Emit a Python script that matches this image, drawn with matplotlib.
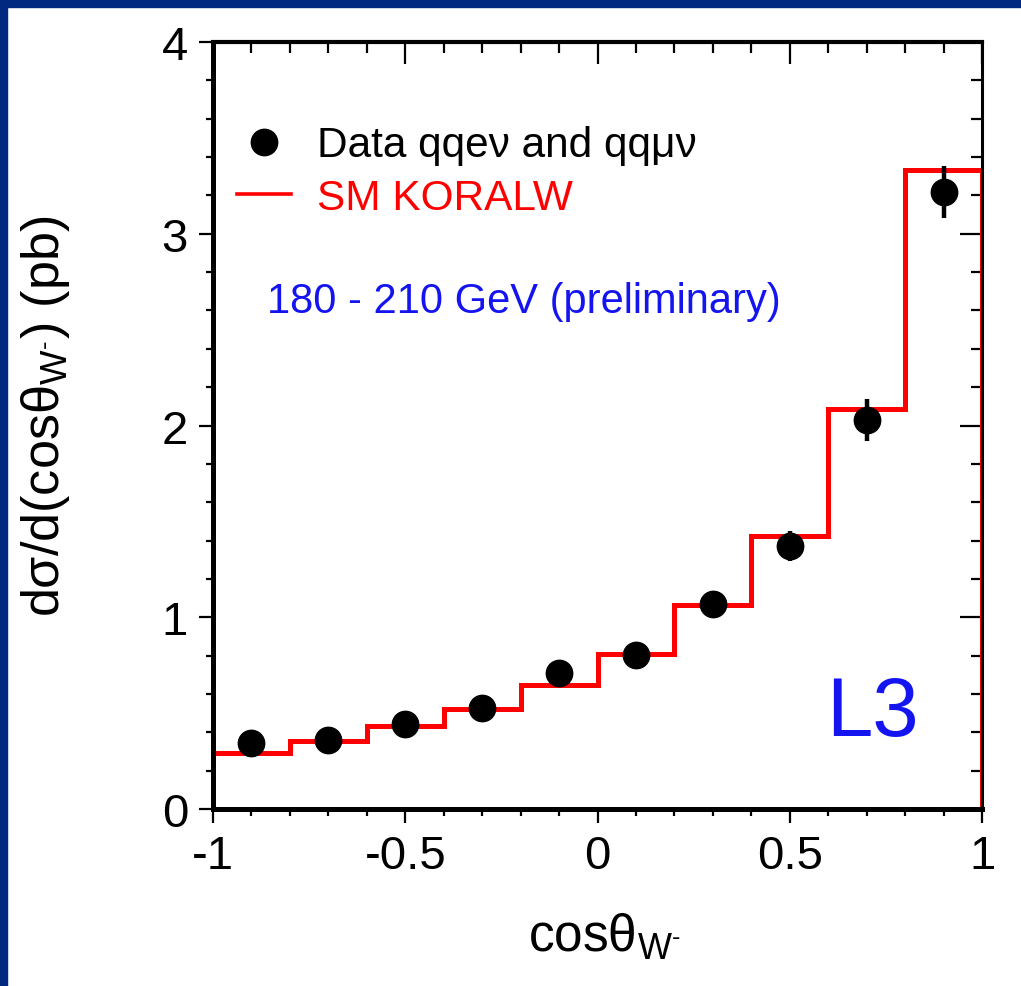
import numpy as np
import matplotlib
matplotlib.use("Agg")
import matplotlib.pyplot as plt
from matplotlib.ticker import MultipleLocator
from matplotlib.patches import Rectangle
from matplotlib.lines import Line2D

# --- data ---
bin_edges = [-1.0, -0.8, -0.6, -0.4, -0.2, 0.0, 0.2, 0.4, 0.6, 0.8, 1.0]
sm_koralw = [0.29, 0.355, 0.433, 0.52, 0.645, 0.81, 1.065, 1.425, 2.085, 3.335]

data_x = [-0.9, -0.7, -0.5, -0.3, -0.1, 0.1, 0.3, 0.5, 0.7, 0.9]
data_y = [0.344, 0.36, 0.443, 0.527, 0.709, 0.803, 1.069, 1.372, 2.029, 3.218]
data_err = [0.03, 0.03, 0.035, 0.04, 0.045, 0.05, 0.07, 0.08, 0.11, 0.135]

x_ticks = [-1, -0.5, 0, 0.5, 1]
x_tick_labels = ["-1", "-0.5", "0", "0.5", "1"]
y_ticks = [0, 1, 2, 3, 4]

navy = "#00297F"
blue = "#1414F0"
red = "#FF0000"

plt.rcParams["font.family"] = ["Liberation Sans", "DejaVu Sans"]
plt.rcParams["mathtext.fontset"] = "custom"
plt.rcParams["mathtext.rm"] = "Liberation Sans"
plt.rcParams["mathtext.it"] = "Liberation Sans"
plt.rcParams["axes.unicode_minus"] = False

fig = plt.figure(figsize=(10.21, 9.87), dpi=100)
fig.patch.set_facecolor("white")

# navy slide frame (top and left strips)
fig.patches.append(Rectangle((0, 1 - 8 / 987), 1, 8 / 987, transform=fig.transFigure,
                             color=navy, zorder=0))
fig.patches.append(Rectangle((0, 0), 7 / 1021, 1, transform=fig.transFigure,
                             color=navy, zorder=0))

ax = fig.add_axes([213 / 1021, (987 - 810) / 987, 769 / 1021, 767 / 987])

# SM prediction as a histogram, closed down to zero at both ends
ax.stairs(sm_koralw, bin_edges, baseline=0, color=red, lw=3.6, zorder=2)

# data points
ax.errorbar(data_x, data_y, yerr=data_err, fmt="o", color="black", ms=19,
            elinewidth=3.2, capsize=0, zorder=3)

ax.set_xlim(-1, 1)
ax.set_ylim(0, 4)
ax.set_xticks(x_ticks)
ax.set_xticklabels(x_tick_labels)
ax.set_yticks(y_ticks)
ax.xaxis.set_minor_locator(MultipleLocator(0.1))
ax.yaxis.set_minor_locator(MultipleLocator(0.2))

ax.tick_params(which="both", direction="out", width=1.6, labelsize=34, colors="black")
ax.tick_params(which="major", length=10, pad=8)
ax.tick_params(which="minor", length=5)
ax.spines["left"].set_linewidth(3.6)
ax.spines["bottom"].set_linewidth(3.6)
ax.spines["top"].set_linewidth(3.0)
ax.spines["right"].set_linewidth(2.2)

# top/right ticks point inward
top = ax.secondary_xaxis("top")
top.set_xticks(x_ticks)
top.xaxis.set_minor_locator(MultipleLocator(0.1))
top.tick_params(which="both", direction="in", width=1.6, labeltop=False)
top.tick_params(which="major", length=16)
top.tick_params(which="minor", length=8)
top.spines["top"].set_visible(False)

right = ax.secondary_yaxis("right")
right.set_yticks(y_ticks)
right.yaxis.set_minor_locator(MultipleLocator(0.2))
right.tick_params(which="both", direction="in", width=1.6, labelright=False)
right.tick_params(which="major", length=16)
right.tick_params(which="minor", length=8)
right.spines["right"].set_visible(False)

# legend
handles = [Line2D([], [], ls="none", marker="o", color="black", ms=19),
           Line2D([], [], color=red, lw=2.6)]
labels = ["Data qqe\u03bd and qq\u03bc\u03bd", "SM KORALW"]
leg = ax.legend(handles, labels, loc="upper left",
                bbox_to_anchor=(-0.007, 0.93), frameon=False, fontsize=30.5,
                handlelength=1.28, handletextpad=0.6, labelspacing=0.3,
                borderpad=0.3, borderaxespad=0.4, numpoints=1)
for txt, col in zip(leg.get_texts(), ["black", red]):
    txt.set_color(col)

ax.text(0.07, 0.662, "180 - 210 GeV (preliminary)", transform=ax.transAxes,
        color=blue, fontsize=30, va="center", ha="left")
ax.text(0.858, 0.125, "L3", transform=ax.transAxes, color=blue, fontsize=60,
        va="center", ha="center")

# axis titles
fig.text(46 / 1021, 1 - 416 / 987,
         "d\u03c3/d(cos\u03b8$_{\\mathrm{W}^{\\text{-}}}$) (pb)",
         rotation=90, fontsize=37.5, ha="center", va="center")
fig.text(604 / 1021, 1 - 937 / 987, "cos\u03b8$_{\\mathrm{W}^{\\text{-}}}$",
         fontsize=37, ha="center", va="center")

fig.savefig("out.png", dpi=100)
